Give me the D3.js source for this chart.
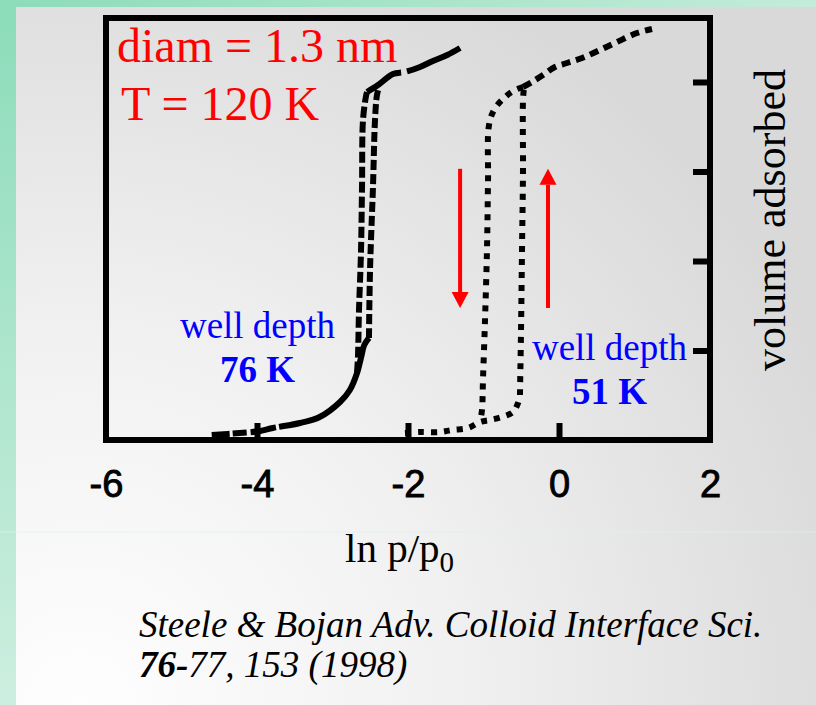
<!DOCTYPE html>
<html>
<head>
<meta charset="utf-8">
<script src="https://cdn.jsdelivr.net/npm/d3@7"></script>
<style>
  html, body { margin: 0; padding: 0; background: #ffffff; }
  svg { display: block; }
</style>
</head>
<body>
<svg id="chart" width="816" height="705"></svg>
<script>
// ---------- data ----------
const xTicks = [-6, -4, -2, 0, 2];
const yTicks = [1, 2, 3, 4];

// well depth 76 K loop
const low76X  = [-4.60, -4.23, -3.96, -3.79, -3.43, -3.17, -2.90, -2.77, -2.675, -2.62, -2.58, -2.517];
const low76Y  = [0.056, 0.078, 0.10, 0.134, 0.19, 0.257, 0.425, 0.559, 0.749, 0.927, 1.06, 1.14];
const ads76X  = [-2.517, -2.503, -2.464, -2.437, -2.411, -2.384];
const ads76Y  = [1.14, 1.899, 2.827, 3.575, 3.855, 3.944];
const des76X  = [-2.543, -2.556, -2.596, -2.609, -2.623, -2.649, -2.662, -2.675];
const des76Y  = [3.888, 3.844, 3.575, 2.827, 2.089, 1.453, 0.950, 0.749];
const high76X = [-2.543, -2.397, -2.199, -2.04, -1.84, -1.67, -1.48, -1.31];
const high76Y = [3.888, 3.966, 4.089, 4.112, 4.168, 4.235, 4.302, 4.380];

// well depth 51 K loop
const low51X  = [-2.04, -1.841, -1.576, -1.417, -1.205, -1.046, -0.914, -0.755, -0.609, -0.543, -0.517];
const low51Y  = [0.078, 0.089, 0.089, 0.112, 0.134, 0.201, 0.223, 0.257, 0.313, 0.413, 0.503];
const ads51X  = [-0.517, -0.503, -0.49, -0.477, -0.477, -0.464];
const ads51Y  = [0.503, 1.229, 2.123, 3.017, 3.799, 3.933];
const des51X  = [-0.477, -0.609, -0.755, -0.861, -0.927, -0.94, -0.954, -0.98, -1.007, -1.02, -1.046];
const des51Y  = [3.944, 3.899, 3.799, 3.687, 3.520, 2.905, 2.123, 1.341, 0.670, 0.335, 0.201];
const high51X = [-0.477, -0.358, -0.212, -0.053, 0.106, 0.305, 0.543, 0.768, 1.033, 1.232];
const high51Y = [3.944, 4.0, 4.078, 4.168, 4.212, 4.268, 4.358, 4.447, 4.547, 4.592];

// direction arrows (x, from y, to y)
const arrowX    = [-1.31, -0.146];
const arrowFrom = [3.03, 1.475];
const arrowTo   = [1.475, 3.03];

// ---------- drawing ----------
const svg = d3.select("#chart");
const W = 816, H = 705;
const defs = svg.append("defs");

const bg = defs.append("radialGradient").attr("id", "bg")
  .attr("gradientUnits", "userSpaceOnUse")
  .attr("cx", 80).attr("cy", 705).attr("r", 820);
bg.append("stop").attr("offset", "0").attr("stop-color", "#fefefe");
bg.append("stop").attr("offset", "0.45").attr("stop-color", "#f1f1f1");
bg.append("stop").attr("offset", "1").attr("stop-color", "#d9d9d9");

const strip = defs.append("linearGradient").attr("id", "strip")
  .attr("x1", 0).attr("y1", 0).attr("x2", 0).attr("y2", 1);
strip.append("stop").attr("offset", "0").attr("stop-color", "#8cdcb9");
strip.append("stop").attr("offset", "1").attr("stop-color", "#cdeee0");

const topStrip = defs.append("linearGradient").attr("id", "topstrip")
  .attr("x1", 0).attr("y1", 0).attr("x2", 1).attr("y2", 0);
topStrip.append("stop").attr("offset", "0").attr("stop-color", "#8cdcb9");
topStrip.append("stop").attr("offset", "1").attr("stop-color", "#c3ecda");

svg.append("rect").attr("width", W).attr("height", H).attr("fill", "url(#topstrip)");
svg.append("rect").attr("x", 0).attr("y", 7).attr("width", 16).attr("height", H - 7).attr("fill", "url(#strip)");
svg.append("rect").attr("x", 16).attr("y", 7).attr("width", W - 16).attr("height", H - 7).attr("fill", "url(#bg)");
svg.append("line").attr("x1", 0).attr("x2", W).attr("y1", 532).attr("y2", 532)
  .attr("stroke", "#dff3ea").attr("stroke-width", 1).attr("opacity", 0.8);

const x = d3.scaleLinear().domain([-6, 2]).range([106, 710]);
const y = d3.scaleLinear().domain([0, 4.715]).range([440, 18]);

// frame
svg.append("rect")
  .attr("x", x(-6)).attr("y", y(4.715))
  .attr("width", x(2) - x(-6)).attr("height", y(0) - y(4.715))
  .attr("fill", "none").attr("stroke", "#000").attr("stroke-width", 6);

// bottom axis (inward ticks + labels)
const xAxis = svg.append("g")
  .attr("transform", `translate(0,${y(0)})`)
  .call(d3.axisBottom(x).tickValues(xTicks).tickSizeInner(-17).tickSizeOuter(0).tickFormat(d3.format("d")));
xAxis.select(".domain").remove();
xAxis.selectAll(".tick line").attr("stroke", "#000").attr("stroke-width", 6)
  .attr("opacity", d => (d === -6 || d === 2) ? 0 : 1);
xAxis.selectAll(".tick text")
  .attr("y", 57).attr("dy", 0)
  .attr("fill", "#000")
  .attr("stroke", "#000").attr("stroke-width", 0.9)
  .style("font-family", "'Liberation Sans', Arial, sans-serif")
  .style("font-size", "38px")
  .text(d => d < 0 ? "-" + Math.abs(d) : String(d));

// right axis (inward ticks, no labels)
const yAxis = svg.append("g")
  .attr("transform", `translate(${x(2)},0)`)
  .call(d3.axisLeft(y).tickValues(yTicks).tickSizeInner(17).tickSizeOuter(0).tickFormat(""));
yAxis.select(".domain").remove();
yAxis.selectAll(".tick line").attr("stroke", "#000").attr("stroke-width", 6);

// curves
function pts(xs, ys) { return xs.map((v, i) => [v, ys[i]]); }
const line = d3.line().x(d => x(d[0])).y(d => y(d[1])).curve(d3.curveCatmullRom.alpha(0.5));

function draw(xs, ys, width, dash) {
  svg.append("path")
    .attr("d", line(pts(xs, ys)))
    .attr("fill", "none")
    .attr("stroke", "#000")
    .attr("stroke-width", width)
    .attr("stroke-dasharray", dash)
    .attr("stroke-linecap", "butt");
}
draw(low76X, low76Y, 6, "18,3,14,4,26,3,600");
draw(ads76X, ads76Y, 6, "10,4");
draw(des76X, des76Y, 6, "11,4");
draw(high76X, high76Y, 6, "40,6,200");

draw(low51X, low51Y, 6, "6,7");
draw(ads51X, ads51Y, 6, "6,7");
draw(des51X, des51Y, 6, "6,7");
draw(high51X, high51Y, 6, "9,6");

// arrows
arrowX.forEach((ax, i) => {
  const px = x(ax), y0 = y(arrowFrom[i]), y1 = y(arrowTo[i]);
  const dir = y1 > y0 ? 1 : -1;
  const headLen = 16, headW = 8.5;
  svg.append("line")
    .attr("x1", px).attr("x2", px)
    .attr("y1", y0).attr("y2", y1 - dir * headLen)
    .attr("stroke", "#ff0000").attr("stroke-width", 4);
  svg.append("path")
    .attr("d", `M${px - headW},${y1 - dir * headLen} L${px + headW},${y1 - dir * headLen} L${px},${y1} Z`)
    .attr("fill", "#ff0000");
});

// annotations
const serif = "'Liberation Serif', 'Times New Roman', serif";
svg.append("text").attr("x", 117).attr("y", 62)
  .style("font-family", serif).style("font-size", "48px").attr("fill", "#ff0000")
  .text("diam = 1.3 nm");
svg.append("text").attr("x", 121).attr("y", 120)
  .style("font-family", serif).style("font-size", "48px").attr("fill", "#ff0000")
  .text("T = 120 K");

function wellLabel(cx, by, val) {
  svg.append("text").attr("x", cx).attr("y", by).attr("text-anchor", "middle")
    .style("font-family", serif).style("font-size", "37px").attr("fill", "#0000ff")
    .text("well depth");
  svg.append("text").attr("x", cx).attr("y", by + 44).attr("text-anchor", "middle")
    .style("font-family", serif).style("font-size", "37px").style("font-weight", "bold")
    .attr("fill", "#0000ff").text(val);
}
wellLabel(257.5, 338, "76 K");
wellLabel(609.5, 360, "51 K");

// axis titles
const xl = svg.append("text").attr("x", 345).attr("y", 562)
  .style("font-family", serif).style("font-size", "41px").attr("fill", "#000");
xl.append("tspan").text("ln p/p");
xl.append("tspan").attr("dy", 10).style("font-size", "29px").text("0");

svg.append("text")
  .attr("transform", "translate(785,220) rotate(-90)")
  .attr("text-anchor", "middle")
  .style("font-family", serif).style("font-size", "44px").attr("fill", "#000")
  .text("volume adsorbed");

// citation
svg.append("text").attr("x", 139).attr("y", 637)
  .style("font-family", serif).style("font-size", "37px").style("font-style", "italic")
  .attr("fill", "#000")
  .text("Steele & Bojan Adv. Colloid Interface Sci.");
const c2 = svg.append("text").attr("x", 139).attr("y", 677)
  .style("font-family", serif).style("font-size", "37px").style("font-style", "italic")
  .attr("fill", "#000");
c2.append("tspan").style("font-weight", "bold").text("76-");
c2.append("tspan").text("77, 153 (1998)");
</script>
</body>
</html>
